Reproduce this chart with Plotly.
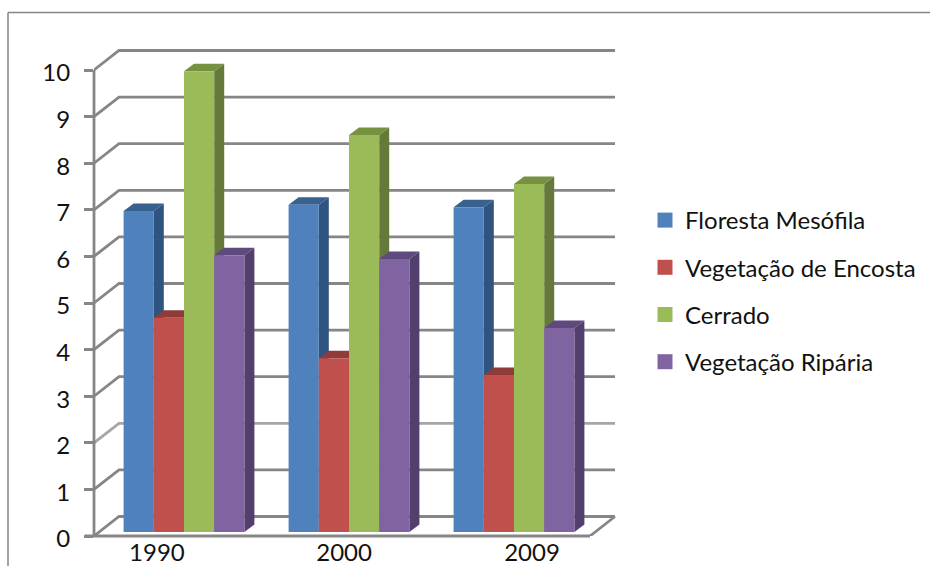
import plotly.graph_objects as go

years = ["1990", "2000", "2009"]
y_ticks = list(range(11))
floresta = [6.89, 7.02, 6.97]
encosta = [4.6, 3.73, 3.37]
cerrado = [9.89, 8.52, 7.47]
riparia = [5.94, 5.86, 4.38]

names = ["Floresta Mesófila", "Vegetação de Encosta", "Cerrado", "Vegetação Ripária"]
values = [floresta, encosta, cerrado, riparia]
front = ["#4F81BD", "#C0504D", "#9BBB59", "#8064A2"]
side = ["#2F5480", "#8A3A38", "#64793A", "#533F6D"]
roof = ["#38618F", "#8E3B39", "#769140", "#5E4A7C"]

W, H = 930, 566
PX_X = 165.0
PX_Y = 46.6
X0, X_FRONT = -90 / PX_X, 406 / PX_X     # front edge of the floor, category units
X_RANGE = [X0, 440 / PX_X]
Y_RANGE = [0, 490 / PX_Y]
label_pos = [-0.164, 0.97, 2.109]
BAR_W = 30.2 / PX_X
BASE = 4 / PX_Y
DX, DY = 10 / PX_X, 7.5 / PX_Y           # depth of a bar
GX, GY = 25 / PX_X, 19.5 / PX_Y          # depth of the chart box
GRID = "#868686"
LW = 2.8

fig = go.Figure()

# back wall and floor (lowest layer)
for v in y_ticks:
    fig.add_trace(go.Scatter(
        x=[X0, X0 + GX, X_FRONT + GX], y=[v, v + GY, v + GY], mode="lines",
        line=dict(color="#A6A6A6" if v == 2 else GRID, width=LW),
        cliponaxis=False, hoverinfo="skip", showlegend=False))
fig.add_trace(go.Scatter(
    x=[X_FRONT, X_FRONT + GX], y=[0, GY], mode="lines", line=dict(color=GRID, width=LW),
    cliponaxis=False, hoverinfo="skip", showlegend=False))

# side and top faces of the bars
for g in range(len(years)):
    for s in range(len(names)):
        left = g + (s - 2) * BAR_W
        right = left + BAR_W
        top = BASE + values[s][g]
        fig.add_trace(go.Scatter(
            x=[right, right + DX, right + DX, right, right],
            y=[BASE, BASE + DY, top + DY, top, BASE],
            mode="none", fill="toself", fillcolor=side[s],
            cliponaxis=False, hoverinfo="skip", showlegend=False))
        fig.add_trace(go.Scatter(
            x=[left, left + DX, right + DX, right, left],
            y=[top, top + DY, top + DY, top, top],
            mode="none", fill="toself", fillcolor=roof[s],
            cliponaxis=False, hoverinfo="skip", showlegend=False))

# front faces, on an overlaying pair of axes so they cover the other faces
for s, name in enumerate(names):
    fig.add_trace(go.Bar(
        x=list(range(len(years))), y=values[s], base=BASE, name=name,
        marker=dict(color=front[s], line=dict(width=0)),
        xaxis="x2", yaxis="y2", showlegend=False))

# legend entries
for s, name in enumerate(names):
    fig.add_trace(go.Scatter(
        x=[None], y=[None], mode="markers", name=name, legendgroup=name,
        marker=dict(symbol="square", size=15, color=front[s])))

dom_x = [94 / W, 624 / W]
dom_y = [1 - 536 / H, 1 - 46 / H]
fig.update_layout(
    width=W, height=H, margin=dict(l=0, r=0, t=0, b=0, autoexpand=False),
    paper_bgcolor="white", plot_bgcolor="rgba(0,0,0,0)",
    font=dict(family="Lato", size=24, color="#111111"),
    barmode="group", bargap=1 - 4 * BAR_W, bargroupgap=0,
    xaxis=dict(domain=dom_x, range=X_RANGE, tickvals=label_pos, ticktext=years,
               showgrid=False, zeroline=False, ticks="", showline=False,
               ticklabelstandoff=0, automargin=False),
    yaxis=dict(domain=dom_y, range=Y_RANGE, tickvals=y_ticks, showgrid=False,
               zeroline=False, ticks="outside", ticklen=9, tickwidth=LW,
               tickcolor=GRID, showline=False, ticklabelstandoff=9,
               ticklabelshift=3, automargin=False),
    xaxis2=dict(domain=dom_x, range=X_RANGE, overlaying="x", visible=False),
    yaxis2=dict(domain=dom_y, range=Y_RANGE, overlaying="y", visible=False),
    legend=dict(x=645 / W, y=1 - 198 / H, xanchor="left", yanchor="top",
                tracegroupgap=13, bgcolor="rgba(0,0,0,0)", font=dict(size=24)),
    shapes=[
        dict(type="line", xref="paper", yref="paper", x0=8 / W, x1=8 / W, y0=0,
             y1=1 - 12.5 / H, line=dict(color=GRID, width=1.5)),
        dict(type="line", xref="paper", yref="paper", x0=8 / W, x1=1,
             y0=1 - 12.5 / H, y1=1 - 12.5 / H, line=dict(color=GRID, width=1.5)),
        dict(type="line", xref="paper", yref="paper", x0=94 / W, x1=94 / W,
             y0=1 - 536 / H, y1=1 - 70 / H, line=dict(color=GRID, width=LW)),
        dict(type="line", xref="paper", yref="paper", x0=85 / W, x1=590 / W,
             y0=1 - 536 / H, y1=1 - 536 / H, line=dict(color=GRID, width=LW)),
    ],
)
fig.write_html("out.html", config={"displayModeBar": False},
               post_script="document.body.style.margin='0';")
